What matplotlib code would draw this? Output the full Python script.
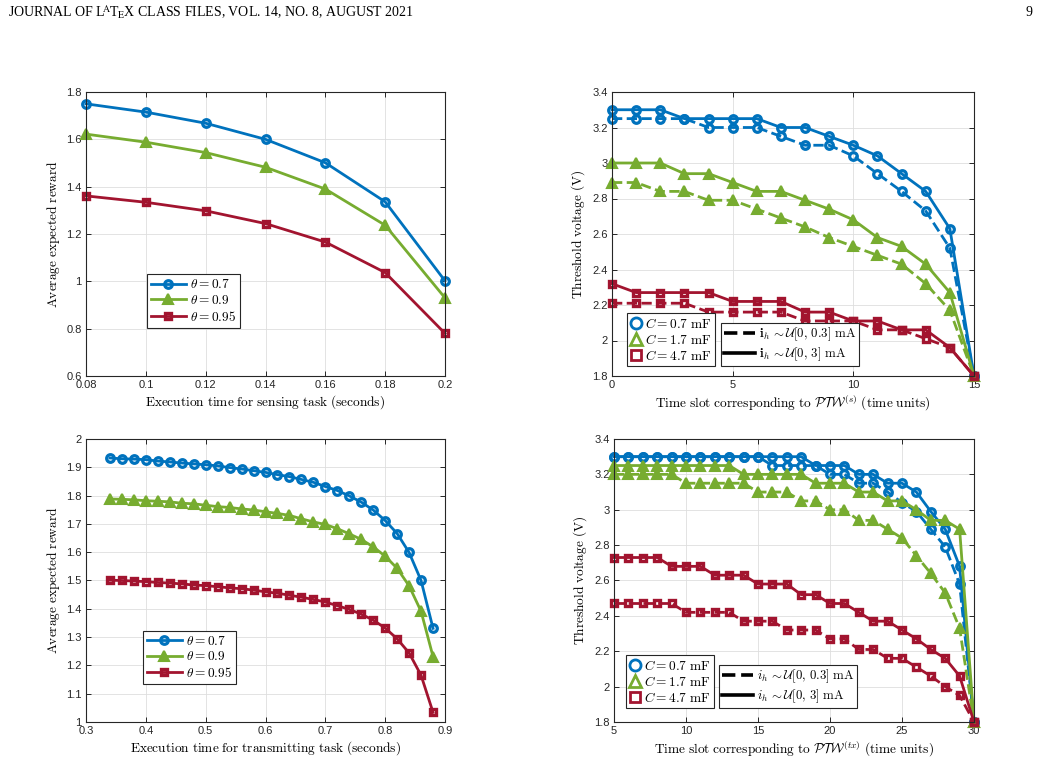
import matplotlib
matplotlib.use("Agg")
import matplotlib.pyplot as plt
from matplotlib.lines import Line2D

plt.rcParams['font.family'] = ['Liberation Sans', 'DejaVu Sans']
plt.rcParams['mathtext.fontset'] = 'cm'

# ---------------- data ----------------
# (a) sensing task
t_sense = [0.08, 0.10, 0.12, 0.14, 0.16, 0.18, 0.20]
sense_07 = [1.750, 1.715, 1.668, 1.600, 1.501, 1.336, 1.002]
sense_09 = [1.622, 1.588, 1.544, 1.482, 1.390, 1.237, 0.930]
sense_095 = [1.361, 1.334, 1.298, 1.244, 1.166, 1.037, 0.780]

# (b) threshold voltage, sensing PTW
slots_s = list(range(0, 16))
s_c07_hi = [3.30, 3.30, 3.30, 3.25, 3.25, 3.25, 3.25, 3.20, 3.20, 3.15, 3.10, 3.04, 2.94, 2.84, 2.63, 1.80]
s_c07_lo = [3.25, 3.25, 3.25, 3.25, 3.20, 3.20, 3.20, 3.15, 3.10, 3.10, 3.04, 2.94, 2.84, 2.73, 2.52, 1.80]
s_c17_hi = [3.00, 3.00, 3.00, 2.94, 2.94, 2.89, 2.84, 2.84, 2.79, 2.74, 2.68, 2.58, 2.53, 2.43, 2.27, 1.80]
s_c17_lo = [2.89, 2.89, 2.84, 2.84, 2.79, 2.79, 2.74, 2.69, 2.64, 2.58, 2.53, 2.48, 2.43, 2.32, 2.17, 1.80]
s_c47_hi = [2.32, 2.27, 2.27, 2.27, 2.27, 2.22, 2.22, 2.22, 2.16, 2.16, 2.11, 2.11, 2.06, 2.06, 1.96, 1.80]
s_c47_lo = [2.21, 2.21, 2.21, 2.21, 2.16, 2.16, 2.16, 2.16, 2.11, 2.11, 2.11, 2.06, 2.06, 2.01, 1.96, 1.80]

# (c) transmitting task
t_tx = [0.34, 0.36, 0.38, 0.40, 0.42, 0.44, 0.46, 0.48, 0.50, 0.52, 0.54, 0.56, 0.58, 0.60,
        0.62, 0.64, 0.66, 0.68, 0.70, 0.72, 0.74, 0.76, 0.78, 0.80, 0.82, 0.84, 0.86, 0.88]
tx_07 = [1.933, 1.930, 1.929, 1.927, 1.922, 1.919, 1.915, 1.912, 1.909, 1.905, 1.899, 1.894, 1.888, 1.882,
         1.874, 1.867, 1.857, 1.847, 1.832, 1.818, 1.799, 1.777, 1.749, 1.712, 1.666, 1.599, 1.500, 1.331]
tx_09 = [1.788, 1.787, 1.785, 1.782, 1.780, 1.778, 1.773, 1.771, 1.766, 1.761, 1.758, 1.753, 1.749, 1.743,
         1.737, 1.730, 1.718, 1.707, 1.698, 1.683, 1.665, 1.645, 1.619, 1.586, 1.543, 1.481, 1.391, 1.231]
tx_095 = [1.501, 1.500, 1.498, 1.496, 1.493, 1.491, 1.488, 1.484, 1.482, 1.478, 1.474, 1.471, 1.466, 1.460,
          1.455, 1.448, 1.441, 1.433, 1.424, 1.411, 1.398, 1.381, 1.360, 1.332, 1.294, 1.244, 1.165, 1.034]

# (d) threshold voltage, transmitting PTW
slots_tx = list(range(5, 31))
x_c07_hi = [3.30]*14 + [3.25]*3 + [3.20]*2 + [3.15]*2 + [3.10, 2.99, 2.89, 2.68, 1.80]
x_c07_lo = [3.30]*11 + [3.25]*4 + [3.20]*2 + [3.15]*2 + [3.10, 3.04, 2.99, 2.89, 2.79, 2.58, 1.80]
x_c17_hi = [3.25]*9 + [3.20]*5 + [3.15]*3 + [3.10]*2 + [3.05]*2 + [3.00, 2.94, 2.94, 2.89, 1.80]
x_c17_lo = [3.20]*5 + [3.15]*5 + [3.10]*3 + [3.05]*2 + [3.00]*2 + [2.94]*2 + [2.89, 2.84, 2.74, 2.64, 2.53, 2.33, 1.80]
x_c47_hi = [2.73]*4 + [2.68]*3 + [2.63]*3 + [2.58]*3 + [2.52]*2 + [2.47]*2 + [2.42] + [2.37]*2 + [2.32, 2.27, 2.21, 2.16, 2.06, 1.80]
x_c47_lo = [2.47]*5 + [2.42]*4 + [2.37]*3 + [2.32]*3 + [2.27]*2 + [2.21]*2 + [2.16]*2 + [2.11, 2.06, 2.00, 1.95, 1.80]

# ---------------- style ----------------
BLUE = '#0072BD'
GREEN = '#77AC30'
RED = '#A2142F'
AX_COL = '#262626'
LW = 2.0
MS = {'o': 5.5, '^': 7.5, 's': 5.0}
MEW = {'o': 2.3, '^': 1.5, 's': 2.4}

fig = plt.figure(figsize=(10.41, 7.64), dpi=100)

fig.text(8/1041, 1 - 12/764,
         r"JOURNAL OF L$^{\!\!\mathrm{A}}$T$_{\!\mathrm{E}}$X CLASS FILES, VOL. 14, NO. 8, AUGUST 2021",
         fontfamily='Liberation Serif', math_fontfamily='stix', fontsize=10,
         ha='left', va='center', color='black')
fig.text(1033/1041, 1 - 12/764, "9", fontfamily='Liberation Serif', fontsize=10,
         ha='right', va='center', color='black')


def make_ax(px_left, px_right, px_top, px_bottom):
    return fig.add_axes([px_left/1041, 1 - px_bottom/764,
                         (px_right - px_left)/1041, (px_bottom - px_top)/764])


def style(ax):
    ax.grid(True, color='#dedede', linewidth=0.6)
    ax.set_axisbelow(True)
    for sp in ax.spines.values():
        sp.set_color(AX_COL)
        sp.set_linewidth(0.8)
    ax.tick_params(direction='in', top=True, right=True, length=3.5, width=0.7,
                   colors=AX_COL, labelsize=8, pad=3)


def lab(s):
    return r"$\mathrm{" + s.replace(' ', r'\ ') + "}$"


def fmt(v):
    return f"{v:.2f}".rstrip('0').rstrip('.')


LBL = 9.6
LEG = 9.6


def mplot(ax, x, y, col, mk, ls='-', label=None):
    mfc = col if mk == '^' else 'none'
    ax.plot(x, y, ls=ls, marker=mk, color=col, lw=LW, ms=MS[mk], mfc=mfc, mew=MEW[mk], label=label)


# ---- (a) ----
ax1 = make_ax(86, 445, 92, 376)
style(ax1)
mplot(ax1, t_sense, sense_07, BLUE, 'o', label=r'$\theta = 0.7$')
mplot(ax1, t_sense, sense_09, GREEN, '^', label=r'$\theta = 0.9$')
mplot(ax1, t_sense, sense_095, RED, 's', label=r'$\theta = 0.95$')
ax1.set_xlim(0.08, 0.2)
ax1.set_ylim(0.6, 1.8)
xt = [0.08, 0.10, 0.12, 0.14, 0.16, 0.18, 0.20]
ax1.set_xticks(xt)
ax1.set_xticklabels([fmt(v) for v in xt])
yt = [0.6, 0.8, 1.0, 1.2, 1.4, 1.6, 1.8]
ax1.set_yticks(yt)
ax1.set_yticklabels([fmt(v) for v in yt])
ax1.set_xlabel(lab('Execution time for sensing task (seconds)'), fontsize=LBL, labelpad=2)
ax1.set_ylabel(lab('Average expected reward'), fontsize=LBL, labelpad=3)
lg = ax1.legend(loc='lower left', bbox_to_anchor=(0.17, 0.17), borderaxespad=0,
                fontsize=LEG, handlelength=2.6, fancybox=False, edgecolor=AX_COL,
                framealpha=1, borderpad=0.3, labelspacing=0.2, handletextpad=0.3)
lg.get_frame().set_linewidth(0.8)

# ---- (c) ----
ax3 = make_ax(86, 445, 439, 722)
style(ax3)
mplot(ax3, t_tx, tx_07, BLUE, 'o', label=r'$\theta = 0.7$')
mplot(ax3, t_tx, tx_09, GREEN, '^', label=r'$\theta = 0.9$')
mplot(ax3, t_tx, tx_095, RED, 's', label=r'$\theta = 0.95$')
ax3.set_xlim(0.3, 0.9)
ax3.set_ylim(1.0, 2.0)
xt = [0.3, 0.4, 0.5, 0.6, 0.7, 0.8, 0.9]
ax3.set_xticks(xt)
ax3.set_xticklabels([fmt(v) for v in xt])
yt = [1.0, 1.1, 1.2, 1.3, 1.4, 1.5, 1.6, 1.7, 1.8, 1.9, 2.0]
ax3.set_yticks(yt)
ax3.set_yticklabels([fmt(v) for v in yt])
ax3.set_xlabel(lab('Execution time for transmitting task (seconds)'), fontsize=LBL, labelpad=2)
ax3.set_ylabel(lab('Average expected reward'), fontsize=LBL, labelpad=3)
lg = ax3.legend(loc='lower left', bbox_to_anchor=(0.159, 0.134), borderaxespad=0,
                fontsize=LEG, handlelength=2.6, fancybox=False, edgecolor=AX_COL,
                framealpha=1, borderpad=0.3, labelspacing=0.2, handletextpad=0.3)
lg.get_frame().set_linewidth(0.8)


def volt_plot(ax, x, series, bold_i):
    for (yh, yl, col, mk) in series:
        mplot(ax, x, yl, col, mk, ls='--')
        mplot(ax, x, yh, col, mk, ls='-')
    ih = r'\mathbf{i}_h' if bold_i else r'i_h'
    h1 = [Line2D([], [], ls='none', marker='o', color=BLUE, ms=8, mfc='white', mew=2),
          Line2D([], [], ls='none', marker='^', color=GREEN, ms=9, mfc='white', mew=2),
          Line2D([], [], ls='none', marker='s', color=RED, ms=7, mfc='white', mew=2)]
    l1 = [r'$C = 0.7\ \mathrm{mF}$', r'$C = 1.7\ \mathrm{mF}$', r'$C = 4.7\ \mathrm{mF}$']
    h2 = [Line2D([], [], ls='--', color='black', lw=2.6),
          Line2D([], [], ls='-', color='black', lw=2.6)]
    l2 = [r'$' + ih + r'\,\sim\mathcal{U}[0,\, 0.3]\ \mathrm{mA}$',
          r'$' + ih + r'\,\sim\mathcal{U}[0,\, 3]\ \mathrm{mA}$']
    return h1, l1, h2, l2


def add_legends(ax, h1, l1, h2, l2, a_x, b_x, y0):
    lgA = ax.legend(h1, l1, loc='lower left', bbox_to_anchor=(a_x, y0), borderaxespad=0,
                    fontsize=LEG, handlelength=0.9, fancybox=False, edgecolor=AX_COL,
                    framealpha=1, borderpad=0.25, labelspacing=0.15, handletextpad=0.2)
    lgA.get_frame().set_linewidth(0.8)
    ax.add_artist(lgA)
    lgB = ax.legend(h2, l2, loc='lower left', bbox_to_anchor=(b_x, y0), borderaxespad=0,
                    fontsize=9.2, handlelength=2.4, fancybox=False, edgecolor=AX_COL,
                    framealpha=1, borderpad=0.25, labelspacing=0.15, handletextpad=0.3)
    lgB.get_frame().set_linewidth(0.8)


yt = [1.8, 2.0, 2.2, 2.4, 2.6, 2.8, 3.0, 3.2, 3.4]

# ---- (b) ----
ax2 = make_ax(612, 974, 92, 376)
style(ax2)
h1, l1, h2, l2 = volt_plot(ax2, slots_s, [
    (s_c07_hi, s_c07_lo, BLUE, 'o'),
    (s_c17_hi, s_c17_lo, GREEN, '^'),
    (s_c47_hi, s_c47_lo, RED, 's')], True)
ax2.set_xlim(0, 15)
ax2.set_ylim(1.8, 3.4)
ax2.set_xticks([0, 5, 10, 15])
ax2.set_yticks(yt)
ax2.set_yticklabels([fmt(v) for v in yt])
ax2.set_xlabel(r'$\mathrm{Time\ slot\ corresponding\ to\ }\mathcal{PTW}^{(s)}\mathrm{\ (time\ units)}$',
               fontsize=LBL, labelpad=2)
ax2.set_ylabel(lab('Threshold voltage (V)'), fontsize=LBL, labelpad=4)
add_legends(ax2, h1, l1, h2, l2, 0.041, 0.301, 0.035)

# ---- (d) ----
ax4 = make_ax(614, 974, 439, 722)
style(ax4)
h1, l1, h2, l2 = volt_plot(ax4, slots_tx, [
    (x_c07_hi, x_c07_lo, BLUE, 'o'),
    (x_c17_hi, x_c17_lo, GREEN, '^'),
    (x_c47_hi, x_c47_lo, RED, 's')], False)
ax4.set_xlim(5, 30)
ax4.set_ylim(1.8, 3.4)
ax4.set_xticks([5, 10, 15, 20, 25, 30])
ax4.set_yticks(yt)
ax4.set_yticklabels([fmt(v) for v in yt])
ax4.set_xlabel(r'$\mathrm{Time\ slot\ corresponding\ to\ }\mathcal{PTW}^{(tx)}\mathrm{\ (time\ units)}$',
               fontsize=LBL, labelpad=2)
ax4.set_ylabel(lab('Threshold voltage (V)'), fontsize=LBL, labelpad=4)
add_legends(ax4, h1, l1, h2, l2, 0.033, 0.292, 0.049)

for a in (ax1, ax2, ax3, ax4):
    for ln in a.get_lines():
        ln.set_clip_on(False)

fig.savefig('out.png', dpi=100, facecolor='white')
